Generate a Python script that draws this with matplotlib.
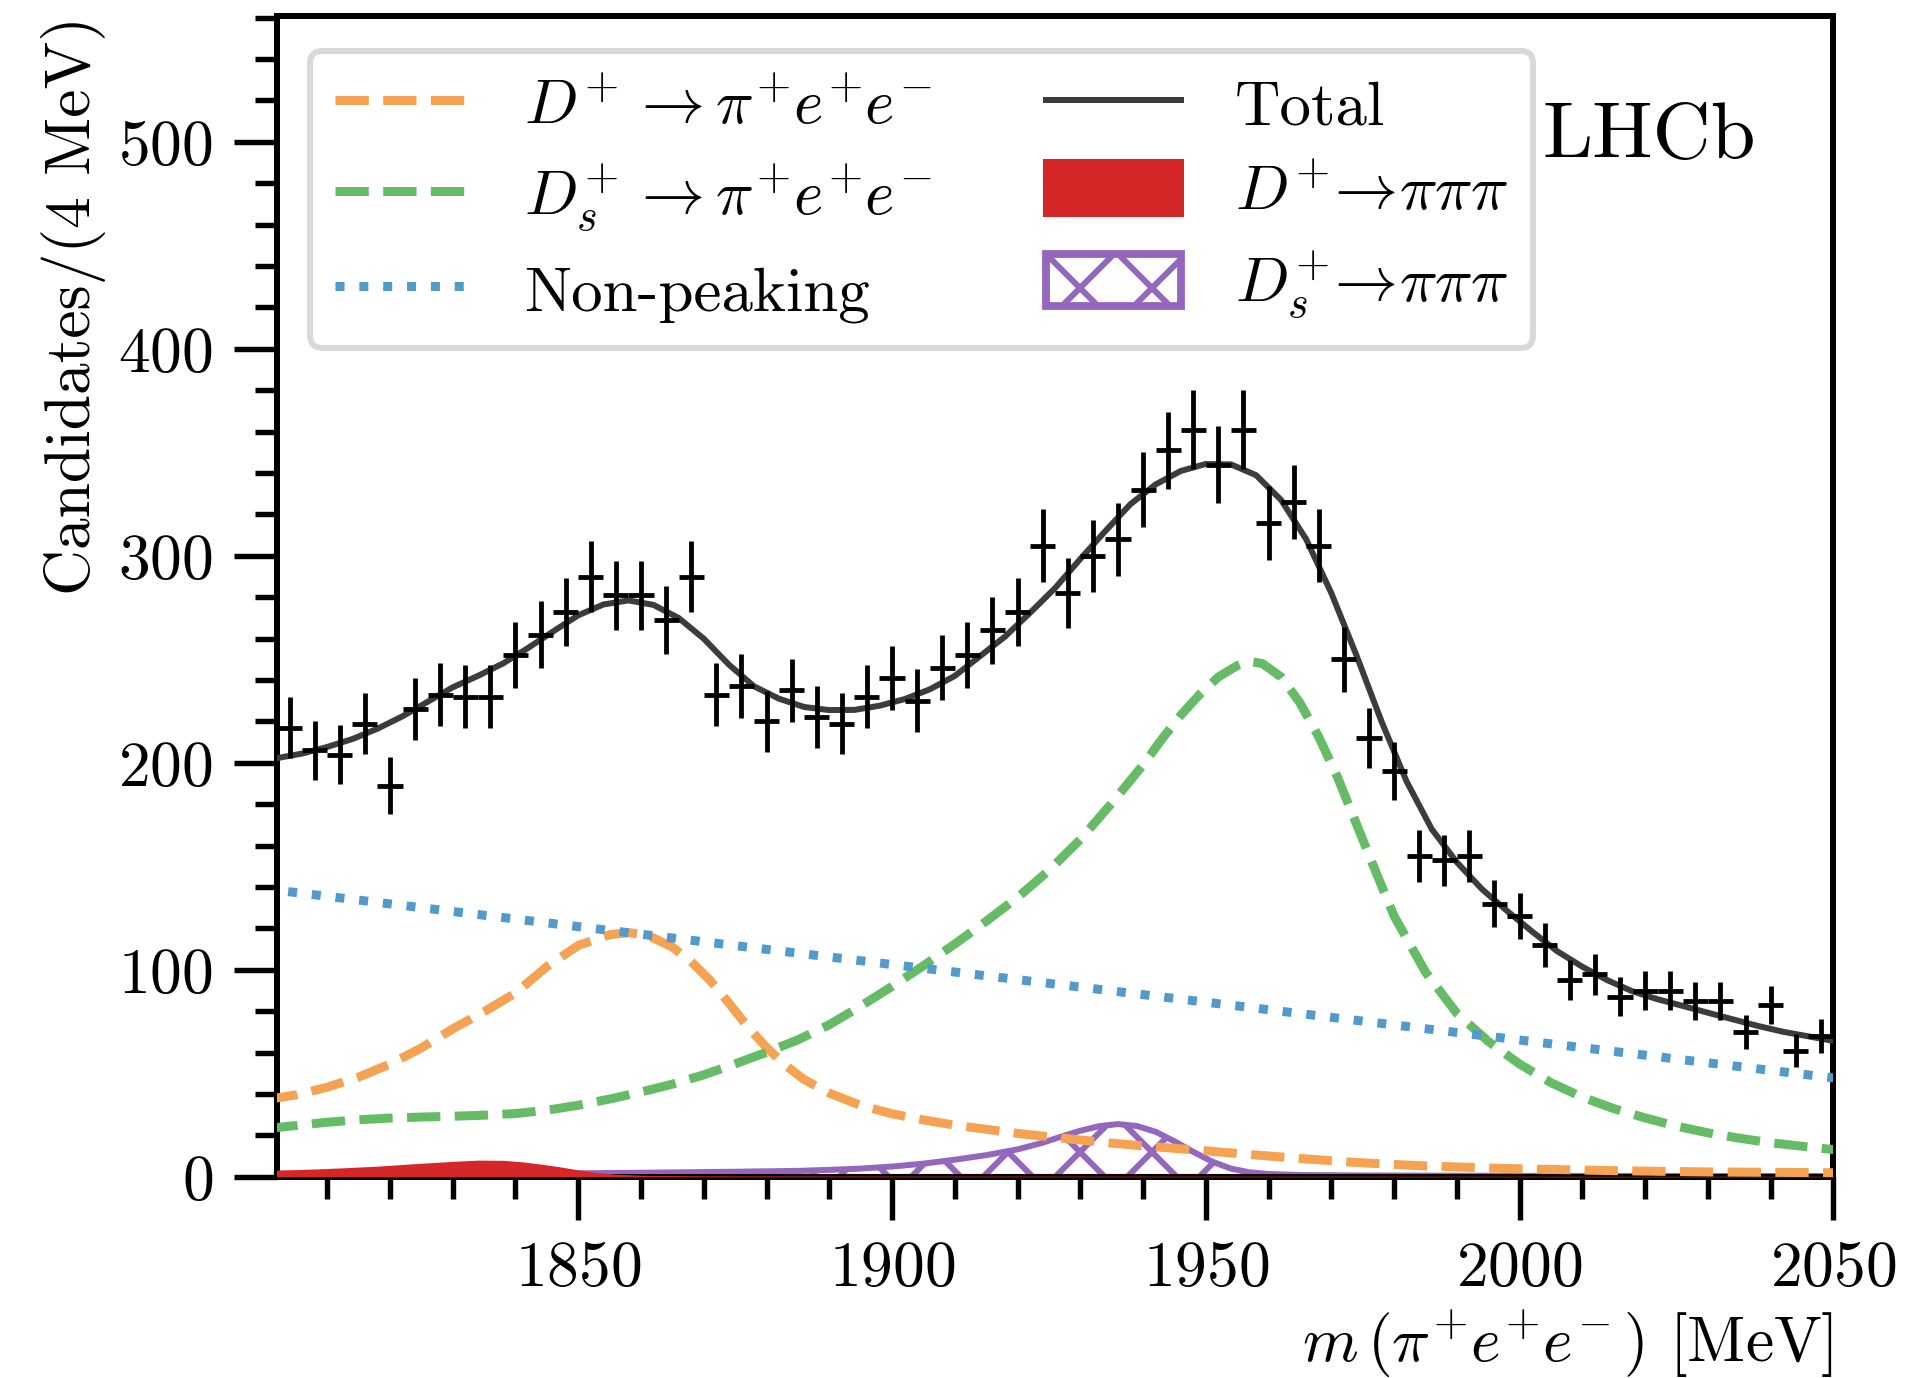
import numpy as np
import matplotlib
matplotlib.use("Agg")
import matplotlib.pyplot as plt
from matplotlib.lines import Line2D
from matplotlib.patches import Patch
from matplotlib.ticker import MultipleLocator

# ---------------- Data ----------------
# binned candidates, 4 MeV bins from 1802 to 2050
bin_half = 2
bin_centres = np.arange(1804, 2050, 2 * bin_half)
counts = np.array([
    217, 206, 204, 219, 189, 226, 233, 232, 232, 252,
    262, 273, 290, 281, 281, 269, 290, 233, 237, 220,
    235, 222, 219, 232, 241, 230, 246, 252, 264, 273,
    305, 282, 300, 308, 332, 351, 361, 344, 361, 316,
    326, 305, 250, 212, 196, 155, 153, 155, 132, 126,
    112, 95, 98, 87, 90, 90, 85, 85, 70, 83,
    61, 68,
])

# fit components
total_x = np.arange(1802, 2051, 4)
total_y = [
    202.3, 204.5, 207.7, 211.5, 216.5, 222.5, 229.5, 236.5, 242.0, 248.0,
    255.5, 263.5, 271.3, 276.5, 278.5, 276.3, 270.0, 260.0, 247.5, 237.0,
    231.0, 227.0, 225.5, 225.6, 227.6, 230.8, 235.5, 242.0, 251.5, 261.0,
    272.5, 284.5, 298.5, 312.0, 325.0, 334.5, 341.0, 344.4, 344.2, 339.0,
    327.0, 308.0, 282.0, 252.0, 220.0, 191.0, 168.0, 152.0, 139.0, 128.5,
    118.5, 109.0, 101.5, 95.0, 89.6, 85.8, 82.6, 79.3, 76.1, 72.9,
    70.1, 67.9, 65.7,
]

dp_ee_x = [1800, 1805, 1810, 1815, 1820, 1825, 1830, 1835, 1840, 1845, 1850, 1855,
           1858, 1861, 1865, 1868, 1871, 1874, 1877, 1880, 1883, 1886,
           1890, 1895, 1900, 1905, 1910,
           1915, 1920, 1925, 1930, 1935, 1940, 1945, 1950, 1955, 1960,
           1965, 1970, 1975, 1980, 1985, 1990, 1995, 2000, 2005, 2010,
           2015, 2020, 2025, 2030, 2035, 2040, 2045, 2050]
dp_ee_y = [37.2, 39.6, 43.3, 48.2, 54.5, 62.3, 71.5, 79.8, 88.8, 101.6, 111.8, 117.0,
           118.0, 116.8, 111.0, 104.0, 95.0, 84.0, 72.5, 62.5, 54.0, 47.0,
           40.5, 34.5, 30.5, 27.5, 25.0,
           23.0, 21.0, 19.4, 17.8, 16.3, 15.0, 13.8, 12.6, 11.3, 10.1,
           8.9, 7.8, 6.8, 6.0, 5.3, 4.8, 4.3, 3.9, 3.6, 3.3,
           3.0, 2.8, 2.6, 2.4, 2.3, 2.2, 2.1, 2.0]

ds_ee_x = [1800, 1805, 1810, 1815, 1820, 1825, 1830, 1835, 1840, 1845,
           1850, 1855, 1860, 1865, 1870, 1875, 1880, 1885, 1890, 1895,
           1900, 1905, 1910, 1915, 1920, 1925, 1930, 1935, 1940,
           1943, 1946, 1949, 1952, 1955, 1957, 1959, 1962, 1965, 1968,
           1971, 1974, 1977, 1980,
           1985, 1990, 1995, 2000, 2005, 2010, 2015, 2020, 2025, 2030,
           2035, 2040, 2045, 2050]
ds_ee_y = [23.2, 24.8, 26.4, 27.6, 28.4, 28.9, 29.3, 29.8, 30.6, 32.2,
           34.6, 37.6, 41.0, 44.8, 49.3, 54.6, 60.2, 66.2, 73.5, 82.5,
           92.0, 102.0, 112.5, 123.5, 135.0, 148.0, 163.0, 180.5, 199.0,
           211.5, 223.0, 233.0, 241.5, 247.0, 249.0, 248.0, 241.5, 229.0, 212.5,
           193.0, 170.5, 148.0, 126.0,
           99.0, 79.0, 65.5, 54.5, 45.5, 38.5, 33.0, 28.5, 24.5, 21.3,
           18.7, 16.5, 14.8, 13.2]

comb_x = [1800, 1850, 1900, 1950, 2000, 2050]
comb_y = [139.2, 120.9, 102.6, 84.4, 66.1, 47.8]

dp_3pi_x = [1800, 1806, 1812, 1818, 1824, 1830, 1834, 1838, 1841, 1844,
            1847, 1850, 1853, 1856, 1860, 1870, 1900, 2050]
dp_3pi_y = [3.2, 3.6, 4.3, 5.2, 6.4, 7.5, 8.1, 8.0, 7.3, 6.2,
            4.9, 3.4, 2.1, 1.3, 0.8, 0.5, 0.4, 0.3]

ds_3pi_x = [1800, 1820, 1840, 1860, 1875, 1885, 1890, 1895, 1900, 1905,
            1910, 1915, 1920, 1924, 1927, 1930, 1933, 1936, 1939, 1942,
            1945, 1948, 1951, 1954, 1957, 1960, 1965, 1975, 2000, 2050]
ds_3pi_y = [1.0, 1.2, 1.5, 2.0, 2.5, 2.9, 3.4, 4.0, 5.0, 6.4,
            8.3, 10.5, 13.3, 16.5, 19.5, 22.3, 24.5, 25.5, 24.6, 21.8,
            17.2, 12.1, 7.4, 4.0, 2.2, 1.4, 0.9, 0.7, 0.5, 0.4]

# ---------------- Style ----------------
ORANGE = "#f5a352"
GREEN = "#66bb66"
BLUE = "#5299cc"
RED = "#d62728"
PURPLE = "#9467bd"
TOTAL = "#3c3c3c"

plt.rcParams["font.family"] = ["cmr10", "DejaVu Serif"]
plt.rcParams["mathtext.fontset"] = "cm"
plt.rcParams["axes.unicode_minus"] = False
plt.rcParams["axes.formatter.use_mathtext"] = True
plt.rcParams["hatch.color"] = PURPLE
plt.rcParams["hatch.linewidth"] = 1.0

DPI = 432
fig = plt.figure(figsize=(1906.4 / DPI, 1378.4 / DPI), dpi=DPI)
ax = fig.add_axes([0.1453, 0.1459, 0.8164, 0.8425])

# ---------------- Plot ----------------
ax.fill_between(ds_3pi_x, 0, ds_3pi_y, facecolor="none", edgecolor=PURPLE,
                hatch="xx", linewidth=1.0, zorder=2)
ax.fill_between(dp_3pi_x, 0, dp_3pi_y, color=RED, linewidth=0, zorder=3)

ax.plot(dp_ee_x, dp_ee_y, color=ORANGE, ls="--", lw=1.5, zorder=3)
ax.plot(ds_ee_x, ds_ee_y, color=GREEN, ls="--", lw=1.5, zorder=3)
ax.plot(comb_x, comb_y, color=BLUE, ls=":", lw=1.5, zorder=3)
ax.plot(total_x, total_y, color=TOTAL, lw=1.0, zorder=4)

ax.errorbar(bin_centres, counts, xerr=bin_half, yerr=np.sqrt(counts),
            fmt="none", ecolor="black", elinewidth=0.8, capsize=0, zorder=5)

ax.set_xlim(1802, 2050)
ax.set_ylim(0, 561)
ax.xaxis.set_major_locator(MultipleLocator(50))
ax.xaxis.set_minor_locator(MultipleLocator(10))
ax.yaxis.set_major_locator(MultipleLocator(100))
ax.yaxis.set_minor_locator(MultipleLocator(20))
ax.tick_params(which="both", direction="out", top=False, right=False,
               width=0.9, labelsize=10.6)
ax.tick_params(which="major", length=7.2)
ax.tick_params(which="minor", length=3.6)
for sp in ax.spines.values():
    sp.set_linewidth(1.0)

ax.set_xlabel(r"$m\,(\pi^{\!+}\!e^{\!+}\!e^{\!-})$ [MeV]", loc="right",
              fontsize=10.6, labelpad=1.5)
ax.set_ylabel("Candidates/(4 MeV)", loc="top", fontsize=10.6, labelpad=2)

handles = [
    Line2D([], [], color=ORANGE, ls="--", lw=1.5),
    Line2D([], [], color=GREEN, ls="--", lw=1.5),
    Line2D([], [], color=BLUE, ls=":", lw=1.5),
    Line2D([], [], color=TOTAL, lw=1.0),
    Patch(facecolor=RED, edgecolor=RED),
    Patch(facecolor="white", edgecolor=PURPLE, hatch="xx", lw=1.3),
]
labels = [
    r"$D^{\!+}\to\pi^{\!+}\!e^{\!+}\!e^{\!-}$",
    r"$D_s^{\!+}\to\pi^{\!+}\!e^{\!+}\!e^{\!-}$",
    "Non-peaking",
    "Total",
    r"$D^{\!+}\!\!\rightarrow\!\pi\pi\pi$",
    r"$D_s^{\!+}\!\!\rightarrow\!\pi\pi\pi$",
]
ax.legend(handles, labels, ncol=2, loc="upper left",
          bbox_to_anchor=(0.0212, 0.9699), borderaxespad=0, fontsize=10.5,
          handlelength=2.15, handleheight=0.9, labelspacing=0.42,
          columnspacing=1.8, handletextpad=0.85, fancybox=True,
          edgecolor="#d0d0d0", framealpha=0.8)

ax.text(0.813, 0.878, "LHCb", transform=ax.transAxes, fontsize=13.4,
        ha="left", va="baseline", zorder=6)

fig.savefig("out.png", dpi=DPI)
